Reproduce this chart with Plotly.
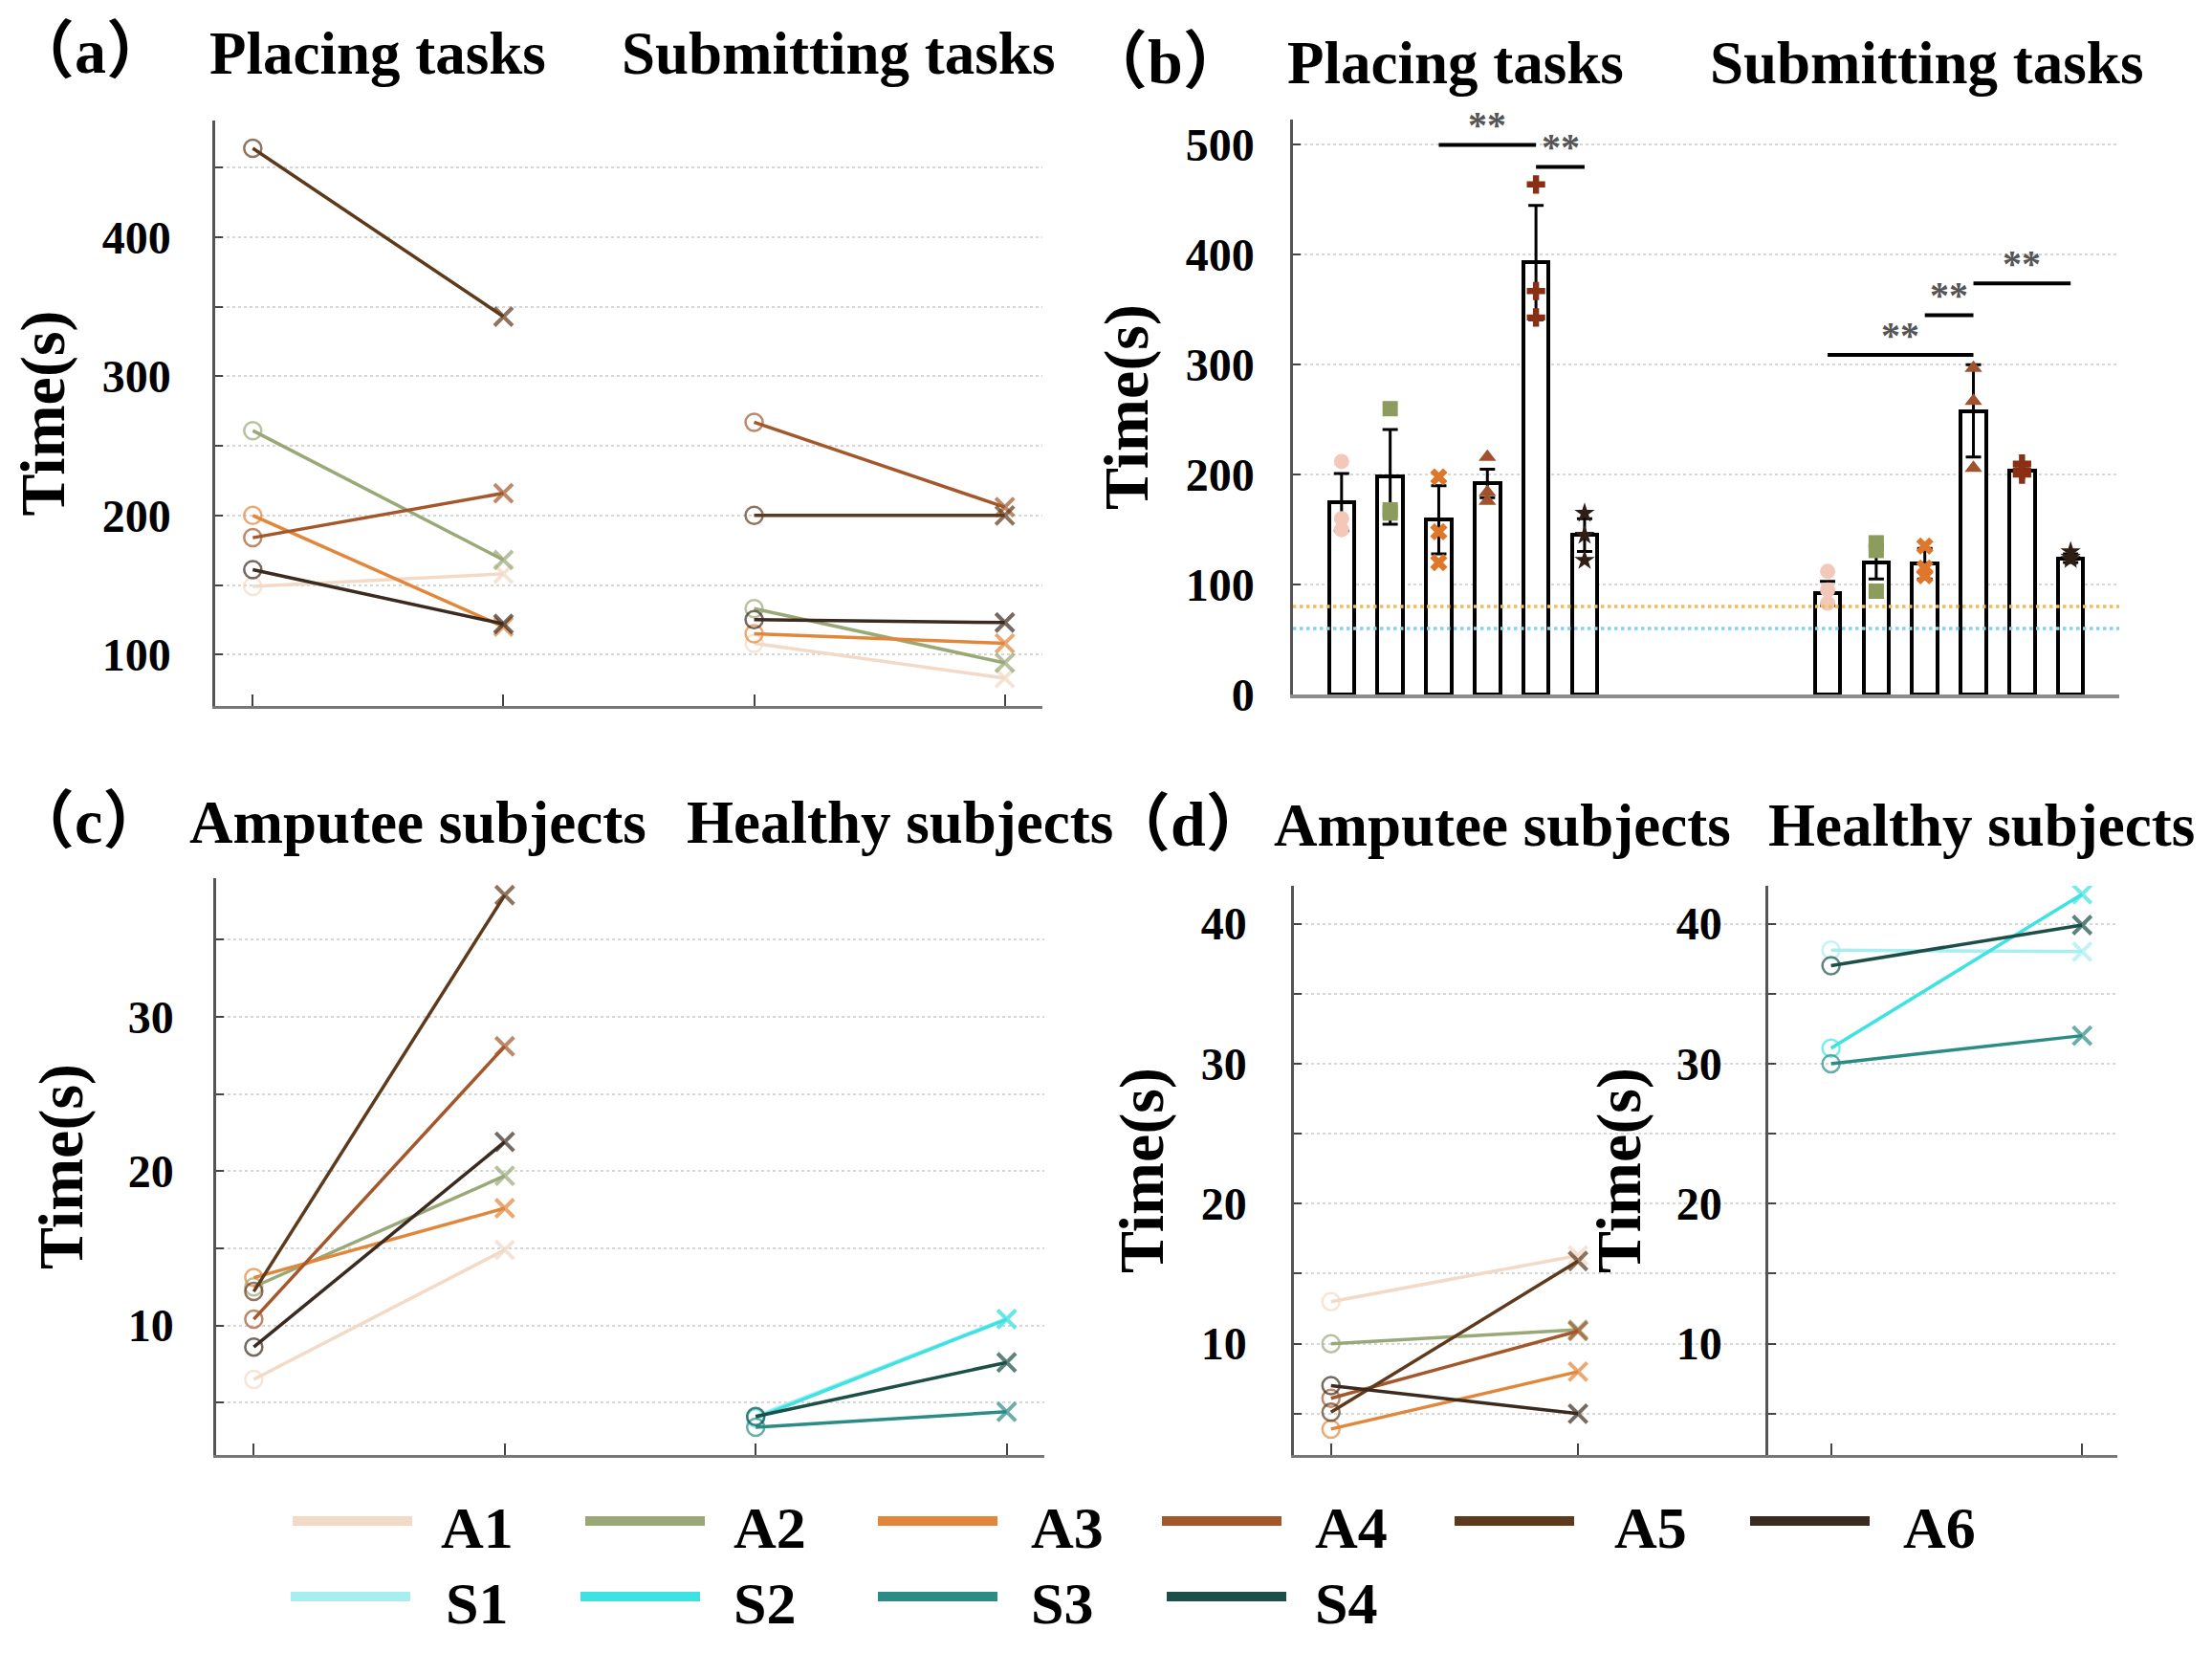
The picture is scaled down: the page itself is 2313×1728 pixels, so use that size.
import plotly.graph_objects as go

W, H = 2313, 1728
FONT = 'Liberation Serif, Noto Sans CJK SC'

SUBJ_A = ['A1', 'A2', 'A3', 'A4', 'A5', 'A6']
SUBJ_S = ['S1', 'S2', 'S3', 'S4']
COL_A = ['#f2dac6', '#9aa878', '#e2863a', '#a3572a', '#5e3a1c', '#3b2a1f']
COL_S = ['#a6eef0', '#3ee2e2', '#2a8c84', '#1b4f47']

# (a) completion time (s): first vs last trial, amputee subjects A1..A6
a_place_first = [149, 261, 200, 184, 464, 161]
a_place_last = [158, 168, 120, 216, 343, 122]
a_submit_first = [108, 133, 115, 267, 200, 125]
a_submit_last = [83, 94, 108, 206, 200, 123]

# (b) mean +- sd per subject and the individual trials
b_place_mean = [175, 198, 159, 192, 393, 145]
b_place_sd = [26, 43, 31, 13, 52, 15]
b_submit_mean = [92, 120, 119, 258, 204, 124]
b_submit_sd = [11, 15, 14, 42, 4, 4]
b_place_trials = [[212, 160, 150], [260, 168, 165], [198, 148, 120],
                  [216, 184, 176], [464, 367, 343], [165, 145, 122]]
b_submit_trials = [[112, 95, 83], [138, 131, 94], [135, 115, 108],
                   [297, 267, 206], [210, 204, 200], [130, 125, 123]]
b_ref_lines = [80, 60]                     # healthy reference levels
b_ref_colors = ['#f0bd5e', '#86d2f0']
b_trial_symbols = ['circle', 'square', 'x', 'triangle-up', 'cross', 'star']
b_trial_colors = ['#f3c8b8', '#8c9c5c', '#e0762a', '#a0522d', '#8a2e14', '#2e1e14']
# significance brackets: (bar from, bar to, height)
b_sig = [(3, 5, 500), (5, 6, 480), (11, 14, 309), (13, 14, 345), (14, 16, 374)]

# (c) amputee / healthy subjects, first vs last
c_amp_first = [6.5, 12.5, 13.1, 10.4, 12.2, 8.6]
c_amp_last = [14.9, 19.7, 17.6, 28.1, 37.9, 21.9]
c_hea_first = [4.1, 4.0, 3.4, 4.1]
c_hea_last = [10.45, 10.4, 4.4, 7.6]

# (d)
d_amp_first = [13.0, 10.0, 3.9, 6.1, 5.1, 7.0]
d_amp_last = [16.3, 11.0, 8.0, 10.9, 15.9, 5.0]
d_hea_first = [38.1, 31.1, 30.0, 37.0]
d_hea_last = [38.0, 42.1, 32.0, 39.9]


def px_x(p):
    return p / W


def px_y(p):
    return 1 - p / H


TICKFONT = dict(family=FONT, size=48, color='black', weight='bold')
TITLEFONT = dict(family=FONT, size=66, color='black', weight='bold')


def yaxis(dom, rng, vals, labels, anchor, standoff, title_standoff, linecolor='#555'):
    return dict(
        domain=[px_y(dom[1]), px_y(dom[0])], range=rng, anchor=anchor,
        tickvals=vals, ticktext=labels, ticks='inside', ticklen=8, tickwidth=2,
        tickcolor='#444', tickfont=TICKFONT, ticklabelstandoff=standoff,
        showline=True, linecolor=linecolor, linewidth=2.5, zeroline=False,
        showgrid=True, gridcolor='#d6d6d6', griddash='dot', gridwidth=2,
        automargin=False,
        title=dict(text='Time(s)', font=TITLEFONT, standoff=title_standoff),
    )


def xaxis(dom, rng, vals, anchor, linecolor='#777', linewidth=3):
    return dict(
        domain=[px_x(dom[0]), px_x(dom[1])], range=rng, anchor=anchor,
        tickvals=vals, ticktext=[''] * len(vals), ticks='inside' if vals else '',
        ticklen=12, tickwidth=2, tickcolor='#444', automargin=False,
        showline=True, linecolor=linecolor, linewidth=linewidth,
        showgrid=False, zeroline=False,
    )


def pair_trace(x0, x1, y0, y1, color, xa, ya):
    return go.Scatter(
        x=[x0, x1], y=[y0, y1], xaxis=xa, yaxis=ya, mode='lines+markers',
        line=dict(color=color, width=3.5),
        marker=dict(symbol=['circle-open', 'x-thin'], size=[18, 19], color=color,
                    line=dict(width=[2.5, 4], color=color)),
        showlegend=False, hoverinfo='y',
    )


fig = go.Figure()

# (a)
for i in range(6):
    fig.add_trace(pair_trace(1, 2, a_place_first[i], a_place_last[i], COL_A[i], 'x', 'y'))
    fig.add_trace(pair_trace(3, 4, a_submit_first[i], a_submit_last[i], COL_A[i], 'x', 'y'))

# (b)
bar_x = [i + 1 for i in range(6)] + [i + 11 for i in range(6)]
fig.add_trace(go.Bar(
    x=bar_x, y=b_place_mean + b_submit_mean, xaxis='x2', yaxis='y2', width=0.52,
    marker=dict(color='white', line=dict(color='black', width=4)),
    error_y=dict(type='data', array=b_place_sd + b_submit_sd, color='black',
                 thickness=3, width=8),
    showlegend=False,
))
for i in range(6):
    fig.add_trace(go.Scatter(
        x=[i + 1] * 3 + [i + 11] * 3, y=b_place_trials[i] + b_submit_trials[i],
        xaxis='x2', yaxis='y2', mode='markers',
        marker=dict(symbol=b_trial_symbols[i], size=16, color=b_trial_colors[i],
                    line=dict(width=0)),
        showlegend=False,
    ))
for val, col in zip(b_ref_lines, b_ref_colors):
    fig.add_trace(go.Scatter(
        x=[0, 17], y=[val, val], xaxis='x2', yaxis='y2', mode='lines',
        line=dict(color=col, width=3.5, dash='dot'), showlegend=False, hoverinfo='skip',
    ))
for x0, x1, h in b_sig:
    fig.add_trace(go.Scatter(
        x=[x0, x1], y=[h, h], xaxis='x2', yaxis='y2', mode='lines',
        line=dict(color='black', width=4), showlegend=False, hoverinfo='skip',
    ))
    fig.add_annotation(x=(x0 + x1) / 2, y=h + 18, xref='x2', yref='y2', text='**',
                       showarrow=False, font=dict(family=FONT, size=40, color='#555',
                                                  weight='bold'))

# (c)
for i in range(6):
    fig.add_trace(pair_trace(1, 2, c_amp_first[i], c_amp_last[i], COL_A[i], 'x3', 'y3'))
for i in range(4):
    fig.add_trace(pair_trace(3, 4, c_hea_first[i], c_hea_last[i], COL_S[i], 'x3', 'y3'))

# (d)
for i in range(6):
    fig.add_trace(pair_trace(1, 2, d_amp_first[i], d_amp_last[i], COL_A[i], 'x4', 'y4'))
for i in range(4):
    fig.add_trace(pair_trace(1, 2, d_hea_first[i], d_hea_last[i], COL_S[i], 'x5', 'y5'))

titles = [
    ('（a）', 2, 46, 'left', 66), ('Placing tasks', 387, 48, 'center', 63),
    ('Submitting tasks', 868, 48, 'center', 63),
    ('（b）', 1124, 56, 'left', 66), ('Placing tasks', 1514, 58, 'center', 63),
    ('Submitting tasks', 2006, 58, 'center', 63),
    ('（c）', 2, 850, 'left', 66), ('Amputee subjects', 429, 852, 'center', 63),
    ('Healthy subjects', 933, 852, 'center', 63),
    ('（d）', 1148, 853, 'left', 66), ('Amputee subjects', 1563, 855, 'center', 63),
    ('Healthy subjects', 2064, 855, 'center', 63),
]
for text, x, y, anchor, size in titles:
    fig.add_annotation(x=px_x(x), y=px_y(y), xref='paper', yref='paper', text=text,
                       xanchor=anchor, yanchor='middle', showarrow=False,
                       font=dict(family=FONT, size=size, color='black', weight='bold'))

# legend drawn as line keys + labels, two rows
legend_rows = [
    (SUBJ_A, COL_A, [298, 604, 910, 1207, 1513, 1822], [451, 757, 1068, 1365, 1678, 1980], 1582),
    (SUBJ_S, COL_S, [296, 599, 910, 1212], [456, 757, 1068, 1365], 1661),
]
for names, cols, key_x, lab_x, row_y in legend_rows:
    for name, col, kx, lx in zip(names, cols, key_x, lab_x):
        fig.add_shape(type='line', xref='paper', yref='paper',
                      x0=px_x(kx), x1=px_x(kx + 125), y0=px_y(row_y), y1=px_y(row_y),
                      line=dict(color=col, width=10))
        fig.add_annotation(x=px_x(lx), y=px_y(row_y + 7), xref='paper', yref='paper',
                           text=name, xanchor='left', yanchor='middle', showarrow=False,
                           font=dict(family=FONT, size=62, color='black', weight='bold'))

q50 = [100, 150, 200, 250, 300, 350, 400, 450]
q50_lab = ['100', '', '200', '', '300', '', '400', '']
c5 = [5, 10, 15, 20, 25, 30, 35]
c5_lab = ['', '10', '', '20', '', '30', '']
d5 = [5, 10, 15, 20, 25, 30, 35, 40]
d5_lab = ['', '10', '', '20', '', '30', '', '40']

fig.update_layout(
    width=W, height=H, margin=dict(l=0, r=0, t=0, b=0), showlegend=False,
    paper_bgcolor='white', plot_bgcolor='white',
    xaxis=xaxis((217, 1082), [0.85, 4.15], [1, 2, 3, 4], 'y'),
    yaxis=yaxis((118, 730), [63, 484], q50, q50_lab, 'x', 34, 22),
    xaxis2=xaxis((1344, 2208), [0, 17], [], 'y2', linecolor='#8c8c8c', linewidth=4),
    yaxis2=yaxis((117, 718), [0, 523], [0, 100, 200, 300, 400, 500],
                 ['0', '100', '200', '300', '400', '500'], 'x2', 28, 18),
    xaxis3=xaxis((218, 1084), [0.85, 4.15], [1, 2, 3, 4], 'y3'),
    yaxis3=yaxis((910, 1513), [1.6, 39.0], c5, c5_lab, 'x3', 32, 26),
    xaxis4=xaxis((1345, 1841), [0.85, 2.77], [1, 2], 'y4'),
    yaxis4=yaxis((918, 1513), [2.05, 42.7], d5, d5_lab, 'x4', 37, 18),
    xaxis5=xaxis((1841, 2206), [0.75, 2.14], [1, 2], 'y5'),
    yaxis5=yaxis((918, 1513), [2.05, 42.7], d5, d5_lab, 'x5', 36, 16),
    bargap=0,
)

fig.write_html('out.html', config={'displayModeBar': False})
